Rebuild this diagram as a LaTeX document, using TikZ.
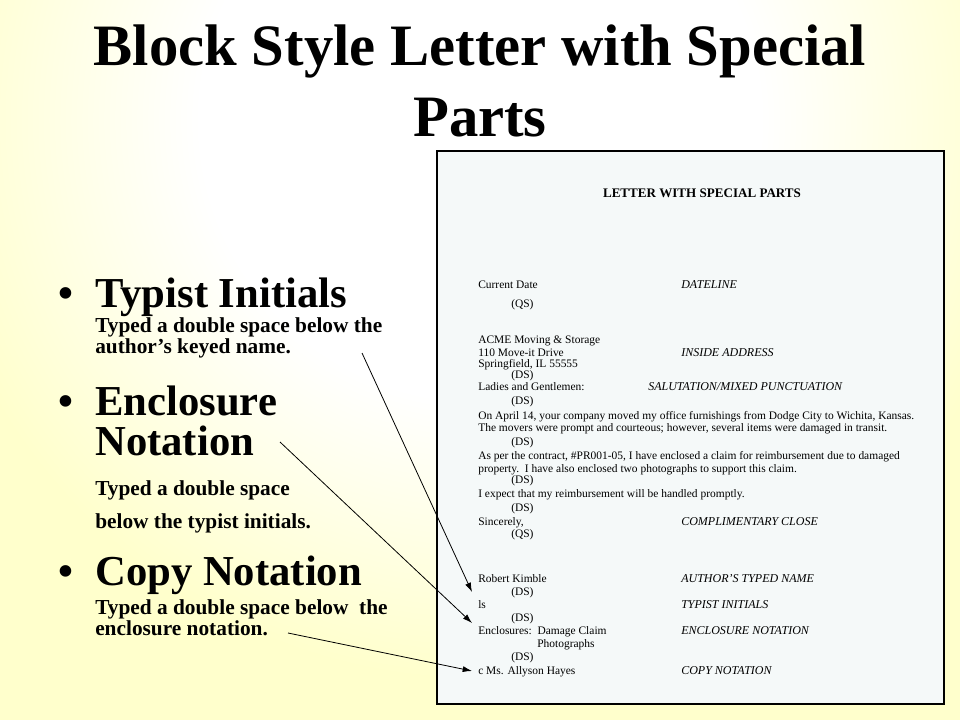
\documentclass[tikz,border=0pt]{standalone}
\usepackage{fontspec}
\setmainfont{Liberation Serif}
\usetikzlibrary{arrows.meta}
\definecolor{slideyellow}{RGB}{255,255,204}
\definecolor{paper}{RGB}{245,249,249}
\pgfdeclareradialshading{slideglow}{\pgfpoint{0bp}{0bp}}{color(0bp)=(white); color(10bp)=(white); color(20bp)=(slideyellow); color(50bp)=(slideyellow)}
\newcommand{\ltrfont}{\fontsize{8.6}{10}\selectfont}
\newcommand{\headfont}{\fontsize{32}{30}\selectfont\bfseries}

\begin{document}
\begin{tikzpicture}[x=0.75pt,y=-0.75pt,
    ltr/.style={anchor=base west,inner sep=0pt,font=\ltrfont},
    tag/.style={anchor=base west,inner sep=0pt,font=\fontsize{9}{10}\selectfont\itshape},
    head/.style={anchor=base west,inner sep=0pt,align=left,font=\headfont},
    note/.style={anchor=base west,inner sep=0pt,align=left,font=\fontsize{16}{14.25}\selectfont\bfseries},
    ptr/.style={-{Latex[length=7pt,width=4.5pt]},line width=0.6pt}]
            \useasboundingbox (0,0) rectangle (960,720);
            \fill[slideyellow] (0,0) rectangle (960,720);
            \begin{scope}
            \clip (0,0) rectangle (960,720);
            \shade[shading=slideglow] (480,120) circle (525pt);
            \end{scope}
            \node[anchor=base,align=center,font=\fontsize{44}{53.25}\selectfont\bfseries] (title) at (480,137) {Block Style Letter with Special\\Parts};
            \draw[fill=paper,line width=1.2pt] (437,151) rectangle (944,704);
            \node[anchor=base,inner sep=0pt,font=\headfont] (dot1) at (66,307) {\textbullet};
            \node[anchor=base,inner sep=0pt,font=\headfont] (dot2) at (66,415) {\textbullet};
            \node[anchor=base,inner sep=0pt,font=\headfont] (dot3) at (66,585) {\textbullet};
            \node[head] (typist) at (95,307) {Typist Initials};
            \node[note] (typistnote) at (95,353) {Typed a double space below the\\author’s keyed name.};
            \node[head] (encl) at (95,455) {Enclosure\\Notation};
            \node[note] (enclnote) at (95,495) {Typed a double space};
            \node[note] (enclnote2) at (95,528) {below the typist initials.};
            \node[head] (copy) at (95,585) {Copy Notation};
            \node[note] (copynote) at (95,635) {Typed a double space below\ \ the\\enclosure notation.};
            \node[anchor=base,inner sep=0pt,font=\fontsize{9.8}{10}\selectfont\bfseries] (lhead) at (702,198) {LETTER WITH SPECIAL PARTS};
            \node[ltr] (date) at (478,289) {Current Date};
            \node[tag] (datetag) at (681,289) {DATELINE};
            \node[ltr] (qs1) at (511,307) {(QS)};
            \node[ltr] (addr1) at (478,344) {ACME Moving \& Storage};
            \node[ltr] (addr2) at (478,356) {110 Move-it Drive};
            \node[tag] (addrtag) at (681,356) {INSIDE ADDRESS};
            \node[ltr] (addr3) at (478,367) {Springfield, IL  55555};
            \node[ltr] (ds1) at (511,378) {(DS)};
            \node[ltr] (salut) at (478,390) {Ladies and Gentlemen:};
            \node[tag] (saluttag) at (648,390) {SALUTATION/MIXED PUNCTUATION};
            \node[ltr] (ds2) at (511,404) {(DS)};
            \node[ltr] (body1) at (478,419) {On April 14, your company moved my office furnishings from Dodge City to Wichita, Kansas.};
            \node[ltr] (body2) at (478,431) {The movers were prompt and courteous; however, several items were damaged in transit.};
            \node[ltr] (ds3) at (511,445) {(DS)};
            \node[ltr] (body3) at (478,459) {As per the contract, \#PR001-05, I have enclosed a claim for reimbursement due to damaged};
            \node[ltr] (body4) at (478,472) {property.\ \ I have also enclosed two photographs to support this claim.};
            \node[ltr] (ds4) at (511,483) {(DS)};
            \node[ltr] (body5) at (478,497) {I expect that my reimbursement will be handled promptly.};
            \node[ltr] (ds5) at (511,511) {(DS)};
            \node[ltr] (close) at (478,525) {Sincerely,};
            \node[tag] (closetag) at (681,525) {COMPLIMENTARY CLOSE};
            \node[ltr] (qs2) at (511,537) {(QS)};
            \node[ltr] (name) at (478,582) {Robert Kimble};
            \node[tag] (nametag) at (681,582) {AUTHOR’S TYPED NAME};
            \node[ltr] (ds6) at (511,595) {(DS)};
            \node[ltr] (inits) at (478,608) {ls};
            \node[tag] (initstag) at (681,608) {TYPIST INITIALS};
            \node[ltr] (ds7) at (511,621) {(DS)};
            \node[ltr] (encls) at (478,634) {Enclosures:\ \ Damage Claim};
            \node[tag] (enclstag) at (681,634) {ENCLOSURE NOTATION};
            \node[ltr] (encls2) at (537,647) {Photographs};
            \node[ltr] (ds8) at (511,660) {(DS)};
            \node[ltr] (cc) at (478,674) {c Ms. Allyson Hayes};
            \node[tag] (cctag) at (681,674) {COPY NOTATION};
            \coordinate (typistfrom) at (362,353);
            \coordinate (typistto) at (472,592);
            \coordinate (enclfrom) at (280,442);
            \coordinate (enclto) at (472,623);
            \coordinate (copyfrom) at (288,633);
            \coordinate (copyto) at (472,671);
            \draw[ptr] (typistfrom) -- (typistto);
            \draw[ptr] (enclfrom) -- (enclto);
            \draw[ptr] (copyfrom) -- (copyto);
        \end{tikzpicture}
\end{document}
